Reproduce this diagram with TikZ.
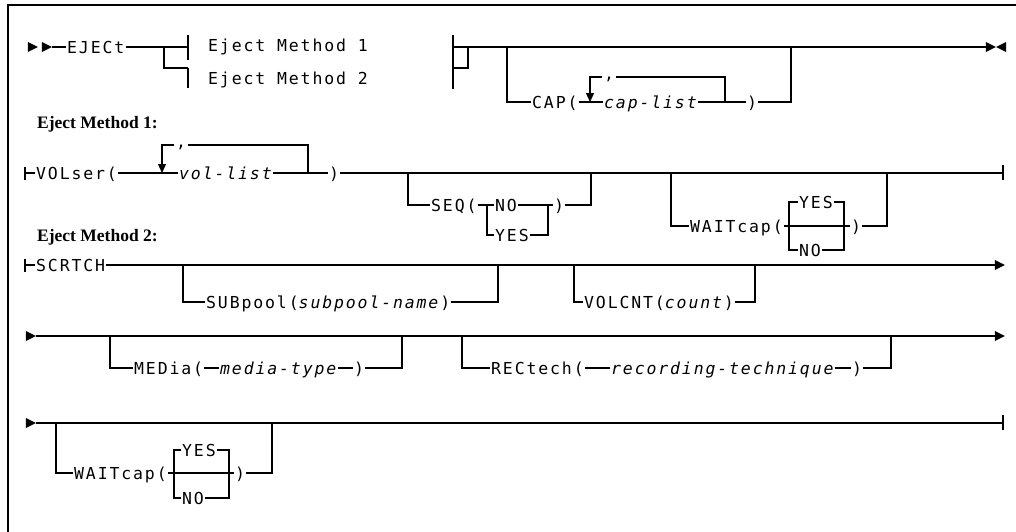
\documentclass[tikz,border=0pt]{standalone}
\usepackage{fontspec}
\setmainfont{Liberation Serif}
\newfontfamily\railfont{DejaVu Sans Mono}[LetterSpace=11.3]
\usetikzlibrary{arrows.meta,shapes.geometric}

\tikzset{
    rail/.style={line width=1.3pt},
    rep/.style={rail, -{Triangle[width=8pt,length=9pt]}},
    kw/.style={font={\railfont\fontsize{16.5}{16.5}\selectfont}, anchor=west, inner xsep=1pt, inner ysep=0pt, text height=12pt, text depth=0pt},
    varname/.style={kw, font={\railfont\itshape\fontsize{16.5}{16.5}\selectfont}},
    delim/.style={font={\railfont\fontsize{16.5}{16.5}\selectfont}, anchor=north, inner xsep=2pt, inner ysep=0pt, text height=2pt, text depth=4pt},
    heading/.style={font={\bfseries\fontsize{17.5}{17.5}\selectfont}, anchor=west, inner sep=0pt},
    gotri/.style={isosceles triangle, isosceles triangle stretches, minimum width=10pt, minimum height=10pt, inner sep=0pt, fill, draw=none},
    stoptri/.style={gotri, shape border rotate=180}
}

\begin{document}
\begin{tikzpicture}[x=1pt,y=-1pt]
            \useasboundingbox (0,0) rectangle (1016,531);
            \draw[rail] (8,545) -- (8,5) -- (1030,5);

            \node[gotri] (go1) at (31,47) {};
            \node[gotri] (go2) at (45,47) {};
            \node[kw] (eject) at (66,47) {EJECt};
            \coordinate (m1a) at (164,47);
            \coordinate (m1b) at (188,47);
            \coordinate (m2b) at (188,68);
            \node[kw] (meth1) at (207,45) {Eject Method 1};
            \node[kw] (meth2) at (207,78) {Eject Method 2};
            \draw[rail] (go2.apex) -- (eject.west);
            \draw[rail] (eject.east) -- (m1b);
            \draw[rail] (m1a) |- (m2b);
            \draw[rail] ([yshift=12pt]m1b) -- ([yshift=-13pt]m1b);
            \draw[rail] (m2b) -- ++(0,20);

            \coordinate (j1) at (453,47);
            \coordinate (j2) at (453,68);
            \coordinate (j3) at (468,47);
            \node[gotri] (stop1) at (989,47) {};
            \node[stoptri] (stop2) at (1003,47) {};
            \draw[rail] (453,35) -- (453,89);
            \draw[rail] (j2) -| (j3);
            \draw[rail] (j1) -- (stop1.west);

            \coordinate (capin) at (507,47);
            \coordinate (capout) at (791,47);
            \coordinate (caprep) at (725,102);
            \coordinate (caprepin) at (590,102);
            \node[kw] (cap) at (531,102) {CAP(};
            \node[varname] (caplist) at (603,102) {cap-list};
            \node[kw] (capend) at (746,102) {)};
            \node[delim] (capsep) at (609,77) {,};
            \draw[rail] (capin) |- (cap.west);
            \draw[rail] (cap.east) -- (caplist.west);
            \draw[rail] (caplist.east) -- (capend.west);
            \draw[rail] (capend.east) -| (capout);
            \draw[rail] (caprep) |- (capsep.north east);
            \draw[rep] (capsep.north west) -| (caprepin);

            \node[heading] (h1) at (37,124) {Eject Method 1:};

            \coordinate (r2in) at (25,173);
            \coordinate (r2out) at (1003,173);
            \coordinate (volrep) at (308,173);
            \coordinate (volrepin) at (162,173);
            \node[kw] (volser) at (35,173) {VOLser(};
            \node[varname] (vollist) at (178,173) {vol-list};
            \node[kw] (volend) at (328,173) {)};
            \node[delim] (volsep) at (181,145) {,};
            \draw[rail] ([yshift=6pt]r2in) -- ([yshift=-7pt]r2in);
            \draw[rail] (r2in) -- (volser.west);
            \draw[rail] (volser.east) -- (vollist.west);
            \draw[rail] (vollist.east) -- (volend.west);
            \draw[rail] (volend.east) -- (r2out);
            \draw[rail] ([yshift=8pt]r2out) -- ([yshift=-7pt]r2out);
            \draw[rail] (volrep) |- (volsep.north east);
            \draw[rep] (volsep.north west) -| (volrepin);

            \coordinate (seqin) at (408,173);
            \coordinate (seqout) at (591,173);
            \coordinate (seqfork) at (487,205);
            \coordinate (seqjoin) at (548,205);
            \node[kw] (seq) at (430,205) {SEQ(};
            \node[kw] (seqno) at (494,205) {NO};
            \node[kw] (seqyes) at (494,235) {YES};
            \node[kw] (seqend) at (553,205) {)};
            \draw[rail] (seqin) |- (seq.west);
            \draw[rail] (seq.east) -- (seqno.west);
            \draw[rail] (seqfork) |- (seqyes.west);
            \draw[rail] (seqno.east) -- (seqend.west);
            \draw[rail] (seqyes.east) -| (seqjoin);
            \draw[rail] (seqend.east) -| (seqout);

            \coordinate (waitin) at (671,173);
            \coordinate (waitout) at (887,173);
            \coordinate (waitl) at (789,226);
            \coordinate (waitr) at (844,226);
            \node[kw] (wait) at (689,226) {WAITcap(};
            \node[kw] (waityes) at (798,202) {YES};
            \node[kw] (waitno) at (798,250) {NO};
            \node[kw] (waitend) at (850,226) {)};
            \draw[rail] (waitin) |- (wait.west);
            \draw[rail] (wait.east) -- (waitend.west);
            \draw[rail] (waityes.west) -| (waitl) |- (waitno.west);
            \draw[rail] (waityes.east) -| (waitr) |- (waitno.east);
            \draw[rail] (waitend.east) -| (waitout);

            \node[heading] (h2) at (37,237) {Eject Method 2:};

            \coordinate (r3in) at (25,265);
            \coordinate (subin) at (183,265);
            \coordinate (subout) at (498,265);
            \coordinate (cntin) at (574,265);
            \coordinate (cntout) at (755,265);
            \node[kw] (scrtch) at (35,265) {SCRTCH};
            \node[gotri] (r3end) at (998,265) {};
            \node[kw] (subpool) at (205,302) {SUBpool(\textit{subpool-name})};
            \node[kw] (volcnt) at (583,302) {VOLCNT(\textit{count})};
            \draw[rail] ([yshift=6pt]r3in) -- ([yshift=-7pt]r3in);
            \draw[rail] (r3in) -- (scrtch.west);
            \draw[rail] (scrtch.east) -- (r3end.west);
            \draw[rail] (subin) |- (subpool.west);
            \draw[rail] (subpool.east) -| (subout);
            \draw[rail] (cntin) |- (volcnt.west);
            \draw[rail] (volcnt.east) -| (cntout);

            \coordinate (medin) at (110,336);
            \coordinate (medout) at (402,336);
            \coordinate (recin) at (462,336);
            \coordinate (recout) at (891,336);
            \node[gotri] (r4go) at (29,336) {};
            \node[gotri] (r4end) at (998,336) {};
            \node[kw] (media) at (133,368) {MEDia(};
            \node[varname] (mediatype) at (219,368) {media-type};
            \node[kw] (mediaend) at (353,368) {)};
            \node[kw] (rectech) at (490,368) {RECtech(};
            \node[varname] (rectype) at (610,368) {recording-technique};
            \node[kw] (recend) at (851,368) {)};
            \draw[rail] (r4go.apex) -- (r4end.west);
            \draw[rail] (medin) |- (media.west);
            \draw[rail] (media.east) -- (mediatype.west);
            \draw[rail] (mediatype.east) -- (mediaend.west);
            \draw[rail] (mediaend.east) -| (medout);
            \draw[rail] (recin) |- (rectech.west);
            \draw[rail] (rectech.east) -- (rectype.west);
            \draw[rail] (rectype.east) -- (recend.west);
            \draw[rail] (recend.east) -| (recout);

            \coordinate (r5out) at (1003,423);
            \coordinate (wait2in) at (56,423);
            \coordinate (wait2out) at (272,423);
            \coordinate (waitbl) at (174,473);
            \coordinate (waitbr) at (229,473);
            \node[gotri] (r5go) at (29,423) {};
            \node[kw] (waitb) at (73,473) {WAITcap(};
            \node[kw] (waitbyes) at (181,450) {YES};
            \node[kw] (waitbno) at (181,498) {NO};
            \node[kw] (waitbend) at (234,473) {)};
            \draw[rail] (r5go.apex) -- (r5out);
            \draw[rail] ([yshift=8pt]r5out) -- ([yshift=-7pt]r5out);
            \draw[rail] (wait2in) |- (waitb.west);
            \draw[rail] (waitb.east) -- (waitbend.west);
            \draw[rail] (waitbyes.west) -| (waitbl) |- (waitbno.west);
            \draw[rail] (waitbyes.east) -| (waitbr) |- (waitbno.east);
            \draw[rail] (waitbend.east) -| (wait2out);
\end{tikzpicture}
\end{document}
